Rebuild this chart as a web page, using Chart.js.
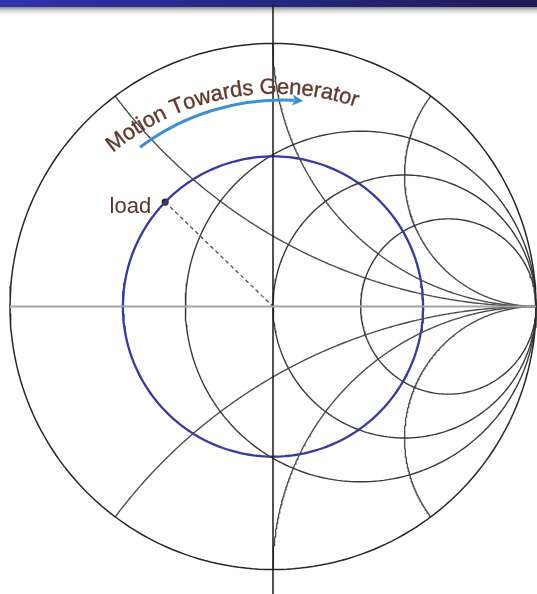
<!DOCTYPE html>
<html>
<head>
<meta charset="utf-8">
<title>Smith chart – motion towards generator</title>
<script src="https://cdn.jsdelivr.net/npm/chart.js@4.4.1/dist/chart.umd.min.js"></script>
<style>
  html, body { margin: 0; padding: 0; background: #ffffff; }
  #wrap { width: 537px; height: 594px; }
</style>
</head>
<body>
<div id="wrap"><canvas id="smith" width="537" height="594"></canvas></div>
<script>
// Normalised resistance circles (r = 0 is the outer unit circle)
const resistanceValues = [0.5, 1, 2];
// Normalised reactance arcs, positive (inductive) and negative (capacitive)
const reactanceValues = [0.5, 1, 2, -0.5, -1, -2];
// Reflection coefficient of the load
const loadGamma = { re: -0.41, im: 0.397 };
// Text shown on the chart
const loadLabel = 'load';
const motionLabel = 'Motion Towards Generator';

// Visible window of the Γ plane
const view = { xMin: -1.038, xMax: 1.0038, yMin: -1.0932, yMax: 1.1654 };

// Annotation geometry in Γ units (arc centre, radius, start/end angle in degrees, clockwise from top)
const textArc = { cx: 0.0099, cy: -0.153, r: 0.962, from: -40, to: 18.6 };
const arrowArc = { cx: 0.0342, cy: -0.116, r: 0.901, from: -36.8, to: 5.15 };

const STEPS = 240;

function circlePts(cx, cy, rad, a0, a1) {
  const pts = [];
  for (let i = 0; i <= STEPS; i++) {
    const a = a0 + (a1 - a0) * i / STEPS;
    pts.push({ x: cx + rad * Math.cos(a), y: cy + rad * Math.sin(a) });
  }
  return pts;
}

// Resistance circle: centre (r/(1+r), 0), radius 1/(1+r)
function resistanceCircle(r) {
  return circlePts(r / (1 + r), 0, 1 / (1 + r), 0, 2 * Math.PI);
}

// Reactance arc: part of circle centre (1, 1/x), radius 1/|x| inside |Γ| ≤ 1
function reactanceArc(x) {
  const ax = Math.abs(x);
  const px = (ax * ax - 1) / (ax * ax + 1);
  const py = 2 * ax / (ax * ax + 1);
  let a0 = Math.atan2(py - 1 / ax, px - 1);
  if (a0 < 0) a0 += 2 * Math.PI;
  const pts = circlePts(1, 1 / ax, 1 / ax, a0, 1.5 * Math.PI);
  return x < 0 ? pts.map(p => ({ x: p.x, y: -p.y })) : pts;
}

const lineDs = (data, color, width, extra) => Object.assign({
  data, showLine: true, borderColor: color, borderWidth: width,
  pointRadius: 0, fill: false, tension: 0
}, extra || {});

const gammaMag = Math.hypot(loadGamma.re, loadGamma.im);

const datasets = [
  lineDs([{ x: -1, y: 0 }, { x: 1, y: 0 }], '#a4a4a4', 2),
  lineDs([{ x: 0, y: 1.150 }, { x: 0, y: view.yMin }], '#1a1a1a', 1.5),
  lineDs(circlePts(0, 0, 1, 0, 2 * Math.PI), '#262626', 1.5),
  ...resistanceValues.map(r => lineDs(resistanceCircle(r), '#3a3a3a', 1.4)),
  ...reactanceValues.map(x => lineDs(reactanceArc(x), '#4e4e4e', 1.4)),
  // constant-|Γ| circle through the load
  lineDs(circlePts(0, 0, gammaMag, 0, 2 * Math.PI), '#3838a4', 2.3),
  lineDs([{ x: loadGamma.re, y: loadGamma.im }, { x: 0, y: 0 }], '#505050', 1.3, { borderDash: [4, 3] }),
  {
    data: [{ x: loadGamma.re, y: loadGamma.im }], showLine: false,
    pointRadius: 3.6, pointBackgroundColor: '#3b2418', pointBorderColor: '#3b2418', pointBorderWidth: 0
  }
];

// Slide header band behind the chart
const headerBand = {
  id: 'headerBand',
  beforeDraw(chart) {
    const ctx = chart.ctx, w = chart.width;
    ctx.save();
    ctx.fillStyle = '#ffffff';
    ctx.fillRect(0, 0, w, chart.height);
    const band = ctx.createLinearGradient(0, 0, w, 0);
    band.addColorStop(0, '#3232ac');
    band.addColorStop(1, '#1b1b55');
    ctx.fillStyle = band;
    ctx.fillRect(0, 0, w, 7);
    const shade = ctx.createLinearGradient(0, 7, 0, 17);
    shade.addColorStop(0, 'rgba(120,120,120,0.85)');
    shade.addColorStop(1, 'rgba(255,255,255,0)');
    ctx.fillStyle = shade;
    ctx.fillRect(0, 7, w, 10);
    ctx.restore();
  }
};

// Labels, curved caption and direction arrow
const annotations = {
  id: 'annotations',
  afterDatasetsDraw(chart) {
    const ctx = chart.ctx;
    const xs = chart.scales.x, ys = chart.scales.y;
    const px = v => xs.getPixelForValue(v);
    const py = v => ys.getPixelForValue(v);
    const ppu = px(1) - px(0);
    const deg = Math.PI / 180;

    ctx.save();
    // load label
    ctx.font = '22px "Liberation Sans", Arial, sans-serif';
    ctx.fillStyle = '#57372a';
    ctx.textAlign = 'right';
    ctx.textBaseline = 'alphabetic';
    ctx.fillText(loadLabel, px(loadGamma.re) - 14, py(loadGamma.im) + 11);

    // caption along an arc
    const tcx = px(textArc.cx), tcy = py(textArc.cy), tr = textArc.r * ppu;
    const chars = Array.from(motionLabel);
    const widths = chars.map(c => ctx.measureText(c).width);
    const total = widths.reduce((a, b) => a + b, 0);
    const arcLen = (textArc.to - textArc.from) * deg * tr;
    const gap = (arcLen - total) / (chars.length - 1);
    ctx.textAlign = 'center';
    ctx.fillStyle = '#603a2c';
    ctx.strokeStyle = '#603a2c';
    ctx.lineWidth = 0.35;
    let s = 0;
    chars.forEach((c, i) => {
      const phi = textArc.from * deg + (s + widths[i] / 2) / tr;
      const x = tcx + tr * Math.sin(phi), y = tcy - tr * Math.cos(phi);
      ctx.save();
      ctx.translate(x, y);
      ctx.rotate(phi);
      ctx.fillText(c, 0, 0);
      ctx.strokeText(c, 0, 0);
      ctx.restore();
      s += widths[i] + gap;
    });

    // arrow along an arc
    const acx = px(arrowArc.cx), acy = py(arrowArc.cy), ar = arrowArc.r * ppu;
    const headLen = 11, headHalf = 5.5;
    const tipPhi = arrowArc.to * deg;
    const shaftEnd = tipPhi - (headLen - 2) / ar;
    ctx.strokeStyle = '#3e90d4';
    ctx.fillStyle = '#3e90d4';
    ctx.lineWidth = 3;
    ctx.lineCap = 'butt';
    ctx.beginPath();
    ctx.arc(acx, acy, ar, arrowArc.from * deg - Math.PI / 2, shaftEnd - Math.PI / 2);
    ctx.stroke();
    const tx = acx + ar * Math.sin(tipPhi), ty = acy - ar * Math.cos(tipPhi);
    const dx = Math.cos(tipPhi), dy = Math.sin(tipPhi);
    const bx = tx - dx * headLen, by = ty - dy * headLen;
    ctx.beginPath();
    ctx.moveTo(tx, ty);
    ctx.lineTo(bx - dy * headHalf, by + dx * headHalf);
    ctx.lineTo(bx + dx * 2.5, by + dy * 2.5);
    ctx.lineTo(bx + dy * headHalf, by - dx * headHalf);
    ctx.closePath();
    ctx.fill();
    ctx.restore();
  }
};

new Chart(document.getElementById('smith'), {
  type: 'scatter',
  data: { datasets },
  options: {
    responsive: false,
    animation: false,
    devicePixelRatio: 1,
    events: [],
    layout: { padding: 0, autoPadding: false },
    plugins: { legend: { display: false }, tooltip: { enabled: false } },
    scales: {
      x: { type: 'linear', min: view.xMin, max: view.xMax, display: false },
      y: { type: 'linear', min: view.yMin, max: view.yMax, display: false }
    }
  },
  plugins: [headerBand, annotations]
});
</script>
</body>
</html>
